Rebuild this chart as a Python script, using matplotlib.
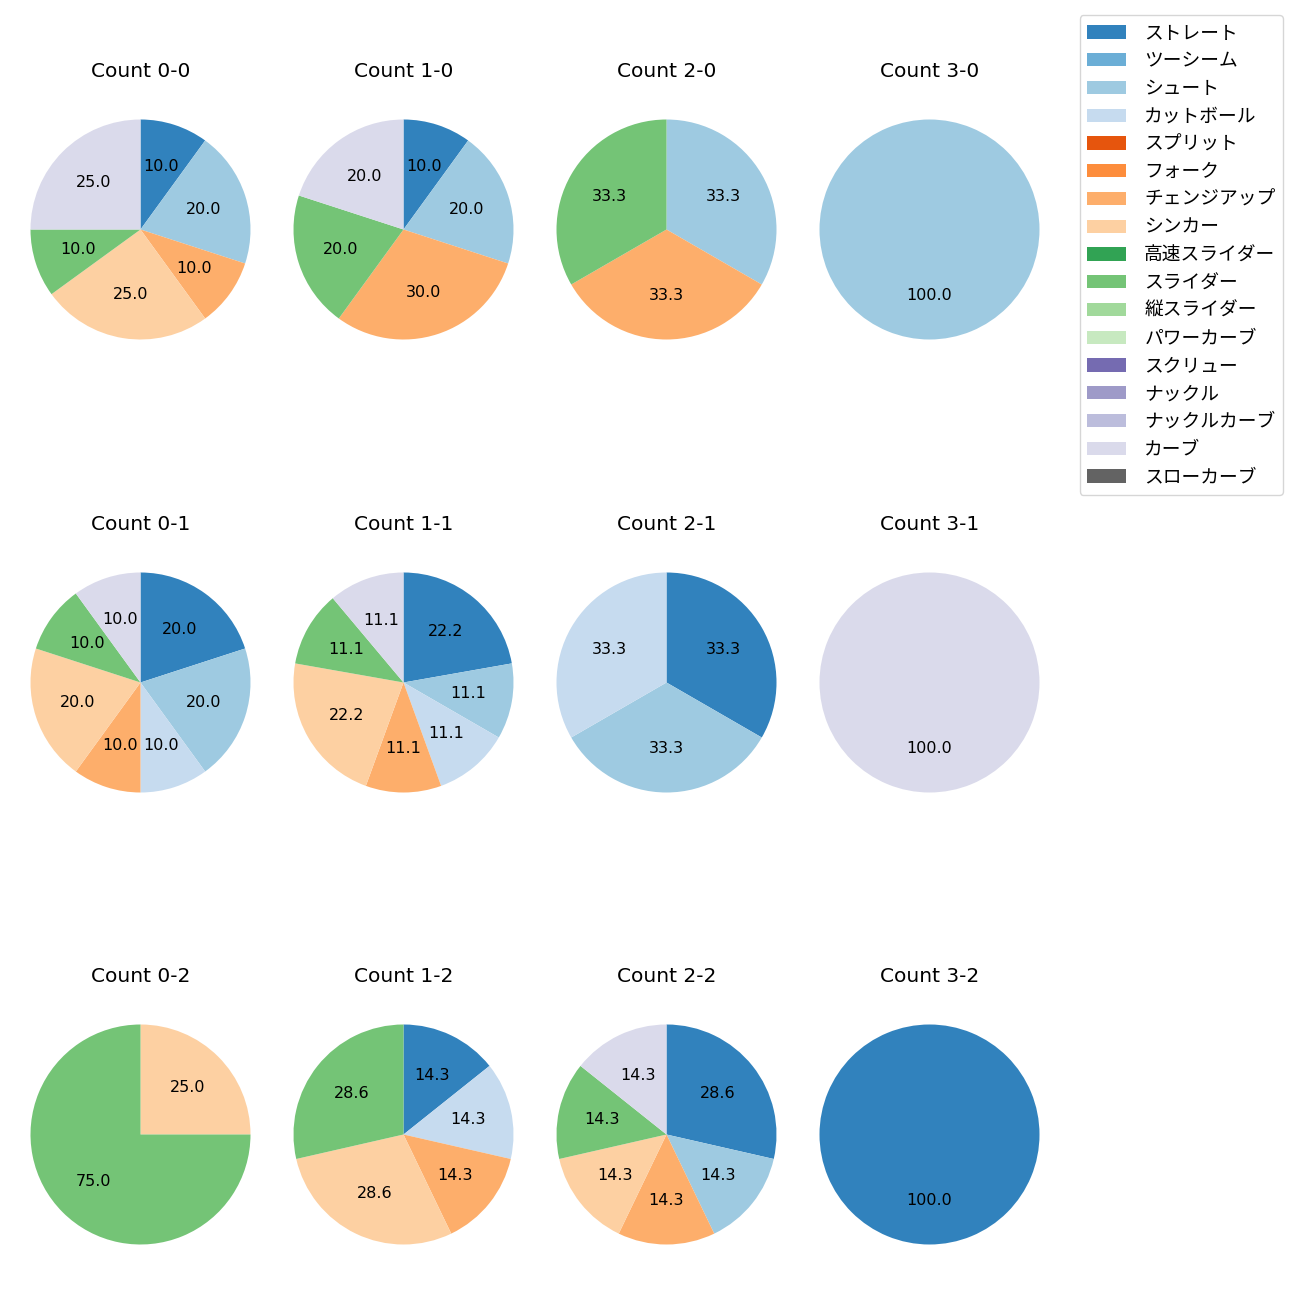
import matplotlib
matplotlib.use('Agg')
import matplotlib.pyplot as plt
from matplotlib.patches import Patch

plt.rcParams['font.family'] = ['DejaVu Sans', 'Noto Sans CJK JP']

# pitch types and colours (tab20c order)
pitch_types = ['ストレート', 'ツーシーム', 'シュート', 'カットボール', 'スプリット', 'フォーク',
               'チェンジアップ', 'シンカー', '高速スライダー', 'スライダー', '縦スライダー',
               'パワーカーブ', 'スクリュー', 'ナックル', 'ナックルカーブ', 'カーブ', 'スローカーブ']
pitch_colors = ['#3182bd', '#6baed6', '#9ecae1', '#c6dbef', '#e6550d', '#fd8d3c',
                '#fdae6b', '#fdd0a2', '#31a354', '#74c476', '#a1d99b', '#c7e9c0',
                '#756bb1', '#9e9ac8', '#bcbddc', '#dadaeb', '#636363']

balls = [0, 1, 2, 3]
strikes = [0, 1, 2]

# pitch counts per ball-strike count, in pitch_types order
count_0_0 = [2, 0, 4, 0, 0, 0, 2, 5, 0, 2, 0, 0, 0, 0, 0, 5, 0]
count_1_0 = [1, 0, 2, 0, 0, 0, 3, 0, 0, 2, 0, 0, 0, 0, 0, 2, 0]
count_2_0 = [0, 0, 1, 0, 0, 0, 1, 0, 0, 1, 0, 0, 0, 0, 0, 0, 0]
count_3_0 = [0, 0, 1, 0, 0, 0, 0, 0, 0, 0, 0, 0, 0, 0, 0, 0, 0]
count_0_1 = [2, 0, 2, 1, 0, 0, 1, 2, 0, 1, 0, 0, 0, 0, 0, 1, 0]
count_1_1 = [2, 0, 1, 1, 0, 0, 1, 2, 0, 1, 0, 0, 0, 0, 0, 1, 0]
count_2_1 = [1, 0, 1, 1, 0, 0, 0, 0, 0, 0, 0, 0, 0, 0, 0, 0, 0]
count_3_1 = [0, 0, 0, 0, 0, 0, 0, 0, 0, 0, 0, 0, 0, 0, 0, 1, 0]
count_0_2 = [0, 0, 0, 0, 0, 0, 0, 1, 0, 3, 0, 0, 0, 0, 0, 0, 0]
count_1_2 = [1, 0, 0, 1, 0, 0, 1, 2, 0, 2, 0, 0, 0, 0, 0, 0, 0]
count_2_2 = [2, 0, 1, 0, 0, 0, 1, 1, 0, 1, 0, 0, 0, 0, 0, 1, 0]
count_3_2 = [1, 0, 0, 0, 0, 0, 0, 0, 0, 0, 0, 0, 0, 0, 0, 0, 0]

data = {
    (0, 0): count_0_0, (1, 0): count_1_0, (2, 0): count_2_0, (3, 0): count_3_0,
    (0, 1): count_0_1, (1, 1): count_1_1, (2, 1): count_2_1, (3, 1): count_3_1,
    (0, 2): count_0_2, (1, 2): count_1_2, (2, 2): count_2_2, (3, 2): count_3_2,
}

W = 1300.0
col_cx = [140.5, 403.5, 666.5, 929.5]
row_cy = [229.5, 682.5, 1134.5]
box = 275.0

fig = plt.figure(figsize=(13, 13), dpi=100)

for s in strikes:
    for b in balls:
        ax = fig.add_axes([(col_cx[b] - box / 2) / W, 1 - (row_cy[s] + box / 2) / W, box / W, box / W])
        vals = data[(b, s)]
        sizes = [v for v in vals if v > 0]
        cols = [c for v, c in zip(vals, pitch_colors) if v > 0]
        ax.pie(sizes, colors=cols, autopct='%.1f', startangle=90, counterclock=False,
               textprops={'fontsize': 11.5})
        ax.set_title('Count %d-%d' % (b, s), fontsize=14.5, pad=11)

handles = [Patch(facecolor=c, label=p) for p, c in zip(pitch_types, pitch_colors)]
fig.legend(handles=handles, loc='upper right', bbox_to_anchor=(1283 / W, 1 - 15 / W),
           borderaxespad=0, prop={'family': ['Noto Sans CJK JP'], 'size': 13.5},
           handlelength=2.1, handletextpad=0.95, labelspacing=0.36)

fig.savefig('out.png', dpi=100)
